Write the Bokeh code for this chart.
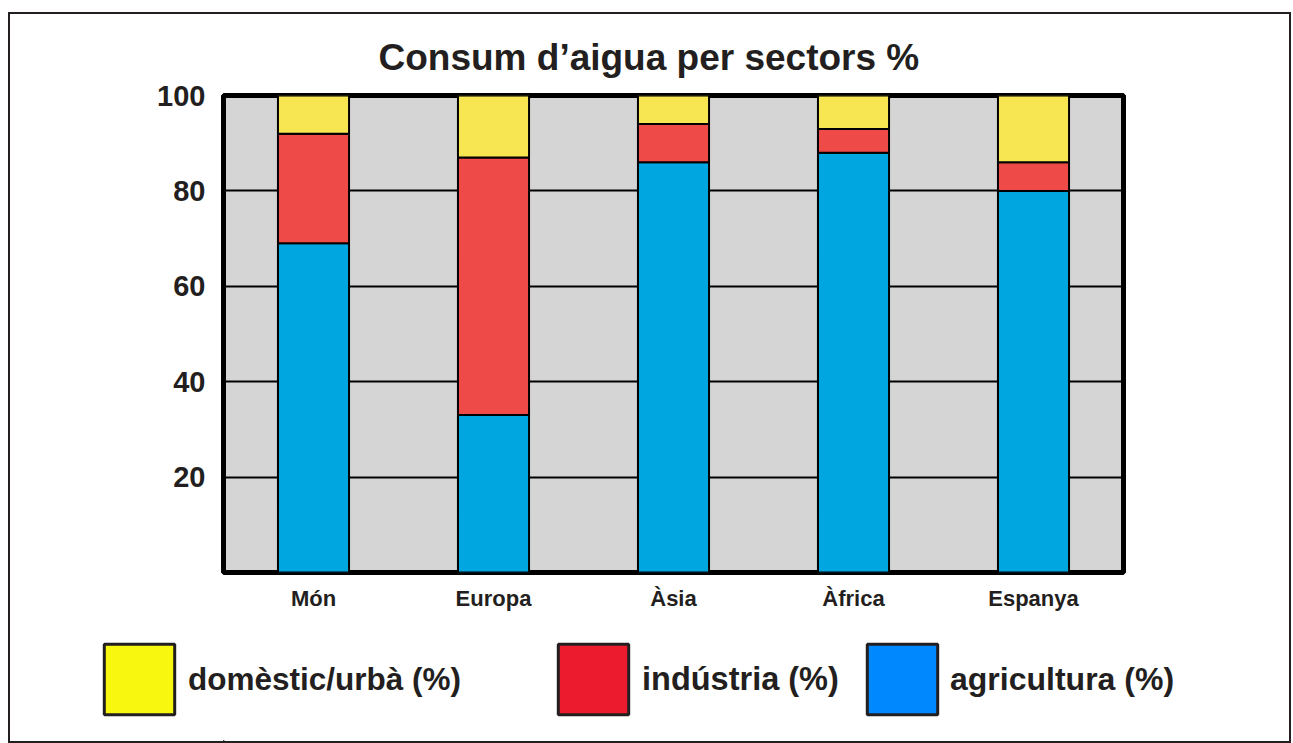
from bokeh.plotting import figure
from bokeh.models import Legend, LegendItem, ColumnDataSource, FixedTicker, Range1d, FactorRange
from bokeh.layouts import column
from bokeh.embed import file_html
from bokeh.resources import INLINE

title_text = "Consum d’aigua per sectors %"
regions = ["Món", "Europa", "Àsia", "Àfrica", "Espanya"]
agricultura = [69, 33, 86, 88, 80]
industria = [23, 54, 8, 5, 6]
domestic = [8, 13, 6, 7, 14]
y_ticks = [20, 40, 60, 80, 100]
series = ["agricultura", "industria", "domestic"]
bar_colors = ["#00A6E0", "#EE4A48", "#F7E552"]
legend_labels = ["domèstic/urbà (%)", "indústria (%)", "agricultura (%)"]
legend_colors = ["#F7F70F", "#EC1C2E", "#0089FF"]

src = ColumnDataSource(dict(regions=regions, agricultura=agricultura,
                            industria=industria, domestic=domestic))

TXT = "#231f20"
FONT = "Liberation Sans"

p = figure(x_range=FactorRange(*regions, range_padding=0), y_range=Range1d(0, 100),
           frame_width=900, frame_height=477,
           min_border_left=213, min_border_top=81, min_border_right=166, min_border_bottom=50,
           output_backend="svg", toolbar_location=None,
           title=title_text)

p.title.text_font = FONT
p.title.text_font_size = "37px"
p.title.text_font_style = "bold"
p.title.text_color = TXT
p.title.align = "left"
p.title.offset = 155
p.title.standoff = 36

p.background_fill_color = "#D5D5D5"
p.border_fill_color = "white"
p.outline_line_color = "black"
p.outline_line_width = 5
p.outline_line_alpha = 1

p.xgrid.grid_line_color = None
p.ygrid.grid_line_color = "black"
p.ygrid.grid_line_width = 2
p.ygrid.ticker = FixedTicker(ticks=[20, 40, 60, 80])

p.vbar_stack(series, x="regions", width=0.395, source=src, color=bar_colors,
             line_color="black", line_width=2)

for ax in (p.xaxis[0], p.yaxis[0]):
    ax.axis_line_color = None
    ax.major_tick_line_color = None
    ax.minor_tick_line_color = None
    ax.major_label_text_font = FONT
    ax.major_label_text_font_style = "bold"
    ax.major_label_text_color = TXT

p.yaxis.ticker = FixedTicker(ticks=y_ticks)
p.yaxis.major_label_text_font_size = "29px"
p.yaxis.major_label_standoff = 12
p.xaxis.major_label_text_font_size = "22px"
p.xaxis.major_label_standoff = 7

# legend strip: a second figure whose frame spans the whole strip
lf = figure(frame_width=1279, frame_height=119, min_border=0,
            x_range=Range1d(0, 1), y_range=Range1d(0, 1),
            x_axis_location=None, y_axis_location=None,
            output_backend="svg", toolbar_location=None)
lf.grid.grid_line_color = None
lf.outline_line_color = None
lf.background_fill_color = "white"
lf.border_fill_color = "white"

legend_positions = [(85, 18, 5, "31.5px"), (539, 18, 5, "32.5px"), (848, 18, 4, "32px")]
for lab, col, (lx, ly, st, fs) in zip(legend_labels, legend_colors, legend_positions):
    # key swatch only: its bar lies outside the strip's visible range
    r = lf.vbar(x=[-10], top=[-10], width=0.1, fill_color=col,
                line_color="#231f20", line_width=3)
    lg = Legend(items=[LegendItem(label=lab, renderers=[r])], location=(lx, ly),
                glyph_width=88, glyph_height=88, label_standoff=st,
                label_text_font=FONT, label_text_font_size=fs,
                label_text_font_style="bold", label_text_color=TXT,
                padding=0, margin=0, border_line_alpha=0, background_fill_alpha=0,
                label_height=88)
    lf.add_layout(lg, "center")

layout = column(p, lf, spacing=0, margin=(12, 0, 0, 8),
                styles={"border": "2px solid #231f20"})

open("out.html", "w").write(file_html(layout, INLINE))
